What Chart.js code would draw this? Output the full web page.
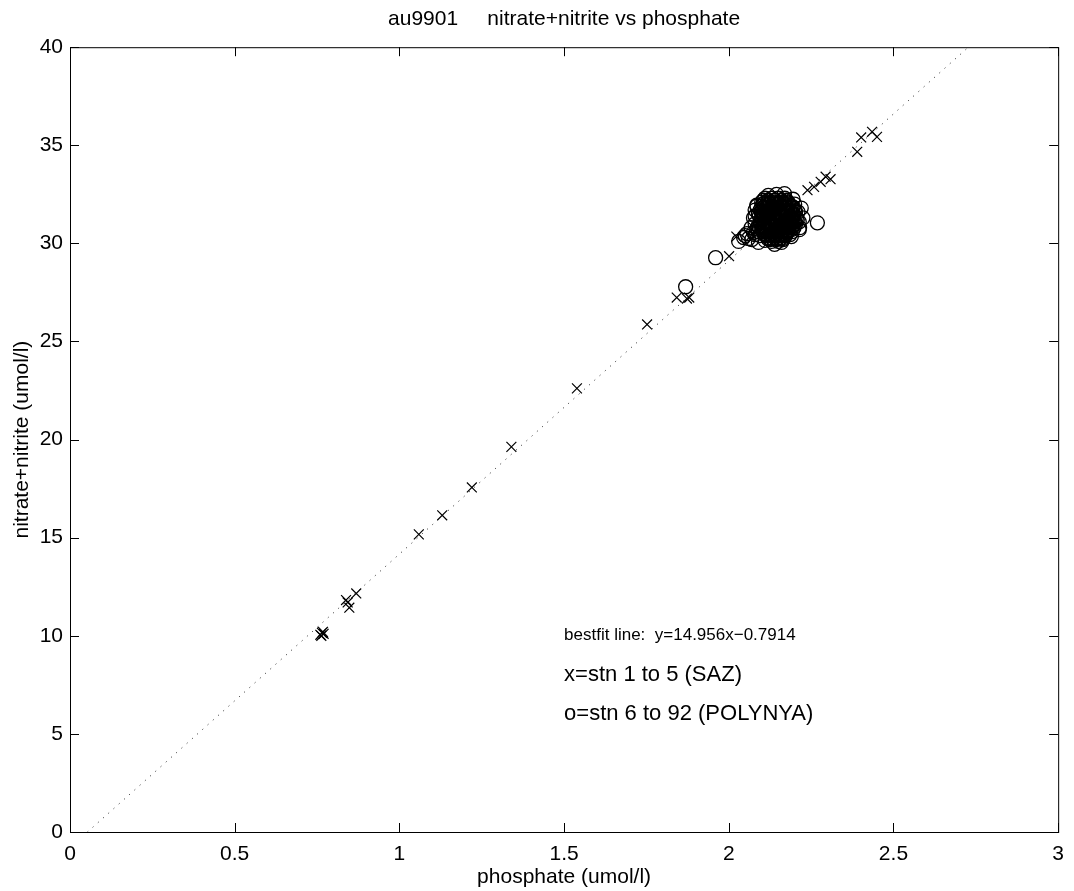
<!DOCTYPE html>
<html>
<head>
<meta charset="utf-8">
<script src="https://cdn.jsdelivr.net/npm/chart.js@4.4.1/dist/chart.umd.min.js"></script>
<style>
  html, body { margin: 0; padding: 0; background: #fff; }
  #wrap { width: 1074px; height: 891px; }
</style>
</head>
<body>
<div id="wrap"><canvas id="chart" width="1074" height="891"></canvas></div>
<script>
// stations 1-5 (SAZ): phosphate, nitrate+nitrite
var sazPhos = [0.760, 0.765, 0.770, 0.763, 0.768, 0.838, 0.848, 0.843, 0.869, 1.059, 1.130, 1.220, 1.340, 1.539,
               1.752, 1.842, 1.873, 1.880, 2.001, 2.023, 2.065, 2.239, 2.259, 2.279, 2.294, 2.309, 2.390, 2.402, 2.435, 2.450];
var sazNit  = [10.05, 10.15, 10.10, 10.00, 10.20, 11.82, 11.43, 11.70, 12.16, 15.17, 16.14, 17.56, 19.63, 22.61,
               25.87, 27.24, 27.19, 27.24, 29.35, 30.35, 30.35, 32.71, 32.88, 33.14, 33.40, 33.27, 34.67, 35.40, 35.69, 35.43];

// stations 6-92 (POLYNYA): phosphate, nitrate+nitrite
var polPhos = [1.869, 1.960, 2.030, 2.045, 2.055, 2.068, 2.060, 2.080, 2.090, 2.139, 2.169, 2.214, 2.214, 2.269, 2.200, 2.085, 2.080, 2.210,
               2.075, 2.085, 2.070, 2.050, 2.095,
               2.085, 2.080, 2.075, 2.080, 2.090, 2.110, 2.160, 2.190, 2.215, 2.225, 2.220, 2.195, 2.120, 2.145,
               2.110, 2.130, 2.150, 2.170,
               2.105, 2.120, 2.140, 2.160, 2.175,
               2.100, 2.120, 2.140, 2.160, 2.180,
               2.105, 2.123, 2.137, 2.152, 2.168, 2.183,
               2.100, 2.115, 2.130, 2.145, 2.160, 2.175, 2.190,
               2.103, 2.118, 2.133, 2.148, 2.163, 2.178, 2.193,
               2.095, 2.110, 2.125, 2.140, 2.155, 2.170, 2.185, 2.200,
               2.098, 2.113, 2.128, 2.143, 2.158, 2.173, 2.188, 2.203,
               2.090, 2.105, 2.120, 2.135, 2.150, 2.165, 2.180, 2.195,
               2.093, 2.108, 2.123, 2.138, 2.153, 2.168, 2.183, 2.198,
               2.100, 2.115, 2.130, 2.145, 2.160, 2.175, 2.190, 2.205,
               2.103, 2.118, 2.133, 2.148, 2.163, 2.178, 2.193, 2.208,
               2.095, 2.110, 2.125, 2.140, 2.155, 2.170, 2.185, 2.200,
               2.098, 2.113, 2.128, 2.143, 2.158, 2.173, 2.188, 2.203,
               2.090, 2.105, 2.120, 2.135, 2.150, 2.165, 2.180, 2.195,
               2.093, 2.108, 2.123, 2.138, 2.153, 2.168, 2.183, 2.198,
               2.100, 2.115, 2.130, 2.145, 2.160, 2.175, 2.190,
               2.103, 2.118, 2.133, 2.148, 2.163, 2.178, 2.193,
               2.110, 2.125, 2.140, 2.155, 2.170,
               2.113, 2.128, 2.143, 2.158, 2.173,
               2.120, 2.140, 2.160,
               2.125, 2.145, 2.165,
               2.130, 2.150,
               2.107, 2.122, 2.136, 2.151, 2.166, 2.181,
               2.106, 2.121, 2.135, 2.150, 2.165, 2.180, 2.196,
               2.101, 2.116, 2.131, 2.146, 2.161, 2.176, 2.191,
               2.106, 2.121, 2.136, 2.151, 2.166, 2.181, 2.197,
               2.101, 2.116, 2.131, 2.146, 2.161, 2.176, 2.191,
               2.106, 2.121, 2.136, 2.151, 2.166, 2.181, 2.196,
               2.101, 2.116, 2.131, 2.146, 2.161, 2.176, 2.191,
               2.106, 2.121, 2.136, 2.151, 2.166, 2.181,
               2.111, 2.126, 2.141, 2.156, 2.171, 2.186,
               2.118, 2.133, 2.148, 2.163];
var polNit  = [27.79, 29.27, 30.10, 30.30, 30.50, 30.80, 30.25, 30.45, 30.05, 29.95, 32.54, 31.10, 30.70, 31.05, 32.00, 31.90, 31.40, 31.60,
               30.55, 30.75, 30.20, 30.40, 30.40,
               31.95, 31.70, 31.30, 31.00, 30.60, 30.15, 30.05, 30.35, 30.80, 31.30, 31.80, 32.25, 32.45, 32.50,
               32.30, 32.30, 32.30, 32.30,
               32.20, 32.20, 32.20, 32.20, 32.20,
               32.10, 32.10, 32.10, 32.10, 32.10,
               32.00, 32.00, 32.00, 32.00, 32.00, 32.00,
               31.90, 31.90, 31.90, 31.90, 31.90, 31.90, 31.90,
               31.80, 31.80, 31.80, 31.80, 31.80, 31.80, 31.80,
               31.70, 31.70, 31.70, 31.70, 31.70, 31.70, 31.70, 31.70,
               31.60, 31.60, 31.60, 31.60, 31.60, 31.60, 31.60, 31.60,
               31.50, 31.50, 31.50, 31.50, 31.50, 31.50, 31.50, 31.50,
               31.40, 31.40, 31.40, 31.40, 31.40, 31.40, 31.40, 31.40,
               31.30, 31.30, 31.30, 31.30, 31.30, 31.30, 31.30, 31.30,
               31.20, 31.20, 31.20, 31.20, 31.20, 31.20, 31.20, 31.20,
               31.10, 31.10, 31.10, 31.10, 31.10, 31.10, 31.10, 31.10,
               31.00, 31.00, 31.00, 31.00, 31.00, 31.00, 31.00, 31.00,
               30.90, 30.90, 30.90, 30.90, 30.90, 30.90, 30.90, 30.90,
               30.80, 30.80, 30.80, 30.80, 30.80, 30.80, 30.80, 30.80,
               30.70, 30.70, 30.70, 30.70, 30.70, 30.70, 30.70,
               30.60, 30.60, 30.60, 30.60, 30.60, 30.60, 30.60,
               30.50, 30.50, 30.50, 30.50, 30.50,
               30.40, 30.40, 30.40, 30.40, 30.40,
               30.30, 30.30, 30.30,
               30.20, 30.20, 30.20,
               30.10, 30.10,
               32.05, 32.05, 32.05, 32.05, 32.05, 32.05,
               31.85, 31.85, 31.85, 31.85, 31.85, 31.85, 31.85,
               31.65, 31.65, 31.65, 31.65, 31.65, 31.65, 31.65,
               31.45, 31.45, 31.45, 31.45, 31.45, 31.45, 31.45,
               31.25, 31.25, 31.25, 31.25, 31.25, 31.25, 31.25,
               31.05, 31.05, 31.05, 31.05, 31.05, 31.05, 31.05,
               30.85, 30.85, 30.85, 30.85, 30.85, 30.85, 30.85,
               30.65, 30.65, 30.65, 30.65, 30.65, 30.65,
               30.45, 30.45, 30.45, 30.45, 30.45, 30.45,
               30.25, 30.25, 30.25, 30.25];

// best fit line y = 14.956x - 0.7914
var fitSlope = 14.956;
var fitIntercept = -0.7914;

var xTicks = [0, 0.5, 1, 1.5, 2, 2.5, 3];
var yTicks = [0, 5, 10, 15, 20, 25, 30, 35, 40];

var notes = [
  { text: "bestfit line:  y=14.956x\u22120.7914", x: 1.5, y: 10, size: 17 },
  { text: "x=stn 1 to 5 (SAZ)", x: 1.5, y: 8, size: 22 },
  { text: "o=stn 6 to 92 (POLYNYA)", x: 1.5, y: 6, size: 22 }
];

var FONT = "'Liberation Sans', Arial, Helvetica, sans-serif";

function toPoints(xs, ys) {
  var pts = [];
  for (var i = 0; i < xs.length; i++) pts.push({ x: xs[i], y: ys[i] });
  return pts;
}

var fitLine = [
  { x: (0 - fitIntercept) / fitSlope, y: 0 },
  { x: (40 - fitIntercept) / fitSlope, y: 40 }
];

// box round the plot, ticks pointing inwards, plus the text notes
var frameTicks = {
  id: 'frameTicks',
  afterDraw: function(chart) {
    var ctx = chart.ctx, a = chart.chartArea;
    var xs = chart.scales.x, ys = chart.scales.y;
    ctx.save();
    ctx.strokeStyle = '#000';
    ctx.lineWidth = 1;
    ctx.strokeRect(a.left + 0.5, a.top + 0.5, a.right - a.left, a.bottom - a.top);
    ctx.beginPath();
    xTicks.forEach(function(v) {
      var px = Math.round(xs.getPixelForValue(v)) + 0.5;
      ctx.moveTo(px, a.bottom); ctx.lineTo(px, a.bottom - 9);
      ctx.moveTo(px, a.top); ctx.lineTo(px, a.top + 9);
    });
    yTicks.forEach(function(v) {
      var py = Math.round(ys.getPixelForValue(v)) + 0.5;
      ctx.moveTo(a.left, py); ctx.lineTo(a.left + 9, py);
      ctx.moveTo(a.right, py); ctx.lineTo(a.right - 9, py);
    });
    ctx.stroke();

    ctx.fillStyle = '#000';
    ctx.textAlign = 'left';
    ctx.textBaseline = 'middle';
    notes.forEach(function(n) {
      ctx.font = n.size + "px " + FONT;
      ctx.fillText(n.text, xs.getPixelForValue(n.x), ys.getPixelForValue(n.y));
    });
    ctx.restore();
  }
};

new Chart(document.getElementById("chart"), {
  type: 'scatter',
  data: {
    datasets: [
      {
        type: 'line',
        data: fitLine,
        borderColor: "#222",
        borderWidth: 1,
        borderDash: [1, 6],
        pointRadius: 0,
        fill: false
      },
      {
        data: toPoints(sazPhos, sazNit),
        pointStyle: 'crossRot',
        pointRadius: 7,
        borderColor: "#000",
        borderWidth: 1.2
      },
      {
        data: toPoints(polPhos, polNit),
        pointStyle: 'circle',
        pointRadius: 7,
        backgroundColor: "rgba(0,0,0,0)",
        borderColor: "#000",
        borderWidth: 1.3
      }
    ]
  },
  plugins: [frameTicks],
  options: {
    responsive: false,
    animation: false,
    layout: { padding: { left: 0, right: 8, top: 0, bottom: 0 } },
    plugins: {
      legend: { display: false },
      tooltip: { enabled: false },
      title: {
        display: true,
        fullSize: false,
        text: "au9901     nitrate+nitrite vs phosphate",
        color: "#000",
        font: { family: FONT, size: 21, weight: 'normal' },
        padding: { top: 7, bottom: 15 }
      }
    },
    scales: {
      x: {
        type: 'linear',
        min: 0,
        max: 3,
        afterBuildTicks: function(s) { s.ticks = xTicks.map(function(v) { return { value: v }; }); },
        afterFit: function(s) { s.height = 59; },
        grid: { display: false, drawTicks: false },
        border: { display: false },
        ticks: {
          color: "#000",
          padding: 10,
          font: { family: FONT, size: 21 },
          callback: function(v) { return String(v); }
        },
        title: {
          display: true,
          text: "phosphate (umol/l)",
          color: "#000",
          font: { family: FONT, size: 21 },
          padding: { top: 0, bottom: 1 }
        }
      },
      y: {
        type: 'linear',
        min: 0,
        max: 40,
        afterBuildTicks: function(s) { s.ticks = yTicks.map(function(v) { return { value: v }; }); },
        afterFit: function(s) { s.width = 70; },
        grid: { display: false, drawTicks: false },
        border: { display: false },
        ticks: { color: "#000", padding: 7, font: { family: FONT, size: 21 } },
        title: {
          display: true,
          text: "nitrate+nitrite (umol/l)",
          color: "#000",
          font: { family: FONT, size: 21 },
          padding: { top: 10, bottom: 0 }
        }
      }
    }
  }
});
</script>
</body>
</html>
